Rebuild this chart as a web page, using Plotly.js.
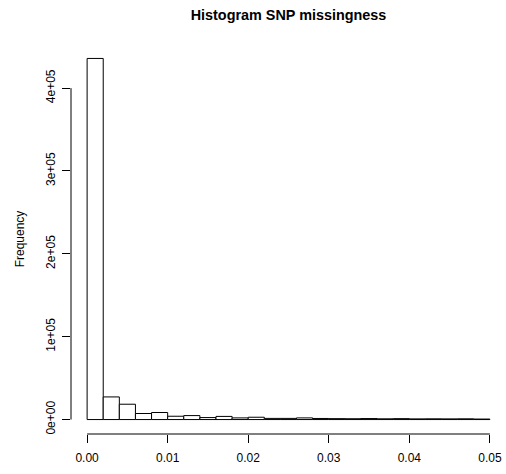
<!DOCTYPE html>
<html>
<head>
<meta charset="utf-8">
<script src="https://cdn.plot.ly/plotly-3.0.1.min.js"></script>
<style>
html,body{margin:0;padding:0;background:#fff;}
#chart{width:506px;height:474px;}
</style>
</head>
<body>
<div id="chart"></div>
<script>
// Histogram bin breaks (SNP missingness) and counts per bin
var breaks = [0.000,0.002,0.004,0.006,0.008,0.010,0.012,0.014,0.016,0.018,0.020,
              0.022,0.024,0.026,0.028,0.030,0.032,0.034,0.036,0.038,0.040,
              0.042,0.044,0.046,0.048,0.050];
var counts = [435800,27300,18500,7300,8500,4000,4800,2400,3800,2000,
              2800,1400,1400,2000,1300,1100,1000,1200,900,1100,
              800,900,800,900,600];
var xTickVals = [0,0.01,0.02,0.03,0.04,0.05];
var xTickText = ["0.00","0.01","0.02","0.03","0.04","0.05"];
var yTickVals = [0,100000,200000,300000,400000];
var yTickText = ["0e+00","1e+05","2e+05","3e+05","4e+05"];

var mids = [], widths = [];
for (var i = 0; i < counts.length; i++) {
  mids.push((breaks[i] + breaks[i+1]) / 2);
  widths.push(breaks[i+1] - breaks[i]);
}
var maxC = Math.max.apply(null, counts);
var xlo = breaks[0], xhi = breaks[breaks.length-1];
var xpad = 0.04 * (xhi - xlo);

var trace = {
  type: 'bar',
  x: mids,
  y: counts,
  width: widths,
  marker: {color: '#ffffff', line: {color: '#000000', width: 1}},
  hoverinfo: 'none'
};

var font = {family: '"Liberation Sans", Arial, Helvetica, sans-serif', size: 12, color: '#000'};

var layout = {
  width: 506, height: 474,
  margin: {l: 71, r: 0, t: 44, b: 40, pad: 0},
  paper_bgcolor: '#fff', plot_bgcolor: '#fff',
  showlegend: false,
  font: font,
  title: {
    text: 'Histogram SNP missingness',
    font: {family: font.family, size: 14.4, weight: 'bold', color: '#000'},
    x: 0.5, xref: 'paper', xanchor: 'center',
    y: 1 - 15/474, yref: 'container', yanchor: 'middle'
  },
  xaxis: {
    range: [xlo - xpad, xhi + xpad],
    showgrid: false, zeroline: false, showline: false,
    tickmode: 'array', tickvals: xTickVals, ticktext: xTickText,
    ticks: 'outside', ticklen: 8, tickwidth: 1, tickcolor: '#000',
    tickfont: font, ticklabelstandoff: 5
  },
  yaxis: {
    range: [-0.04 * maxC, 1.04 * maxC],
    showgrid: false, zeroline: false, showline: false,
    tickmode: 'array', tickvals: yTickVals, ticktext: yTickText,
    ticks: 'outside', ticklen: 8, tickwidth: 1, tickcolor: '#000',
    tickangle: -90, tickfont: font, ticklabelstandoff: 2,
    title: {text: 'Frequency', font: font, standoff: 17}
  },
  shapes: [
    {type: 'line', xref: 'x', yref: 'paper', x0: xTickVals[0], x1: xTickVals[xTickVals.length-1], y0: 0, y1: 0,
     line: {color: '#000', width: 1}},
    {type: 'line', xref: 'paper', yref: 'y', x0: 0, x1: 0, y0: yTickVals[0], y1: yTickVals[yTickVals.length-1],
     line: {color: '#000', width: 1}}
  ]
};

Plotly.newPlot('chart', [trace], layout, {staticPlot: true, displayModeBar: false});
</script>
</body>
</html>
